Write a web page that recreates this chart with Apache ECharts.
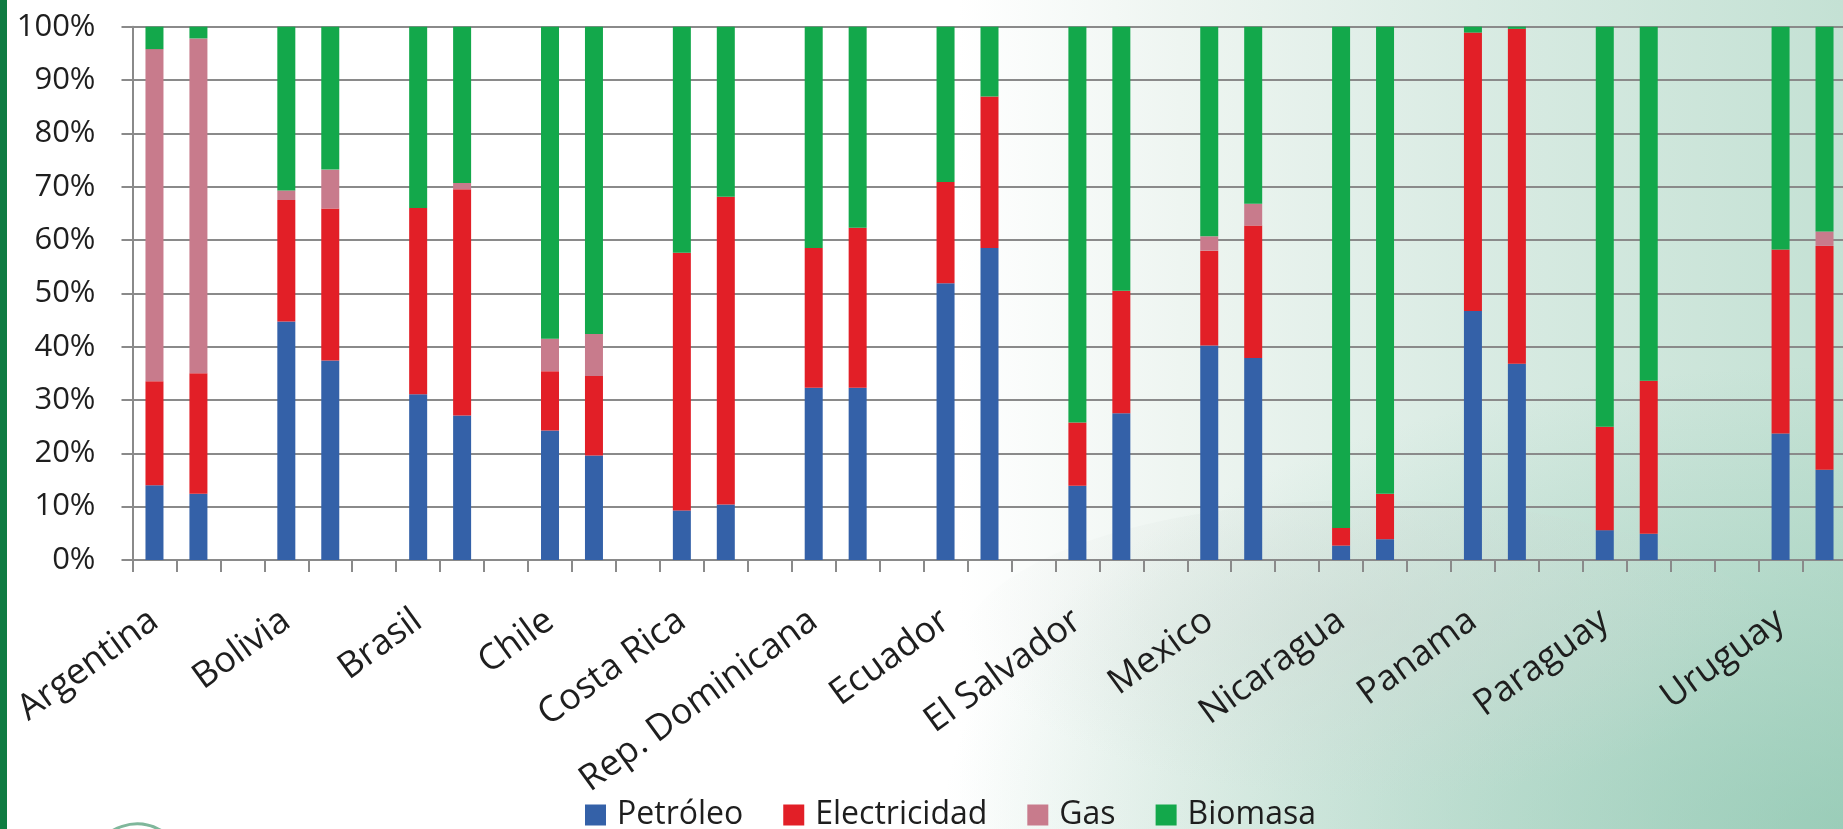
<!DOCTYPE html>
<html>
<head>
<meta charset="utf-8">
<script src="https://cdn.jsdelivr.net/npm/echarts@6/dist/echarts.min.js"></script>
<style>
  html, body { margin: 0; padding: 0; width: 1843px; height: 829px; overflow: hidden; }
  body {
    position: relative;
    background:
      radial-gradient(ellipse 70% 80% at 100% 100%, rgba(120,188,162,0.55), rgba(120,188,162,0) 70%),
      linear-gradient(90deg, #ffffff 0%, #ffffff 52%, #eef5f1 64%, #d9ebe3 80%, #c4e1d4 100%);
  }
  #side { position: absolute; left: 0; top: 0; width: 7px; height: 829px; background: #0f7c42; }
  #dome {
    position: absolute; left: 960px; top: 500px; width: 820px; height: 300px; border-radius: 50%;
    background: radial-gradient(ellipse at 50% 40%, rgba(205,215,210,0.45), rgba(205,215,210,0) 70%);
  }
  #chart { position: absolute; left: 0; top: 0; width: 1843px; height: 829px; }
</style>
</head>
<body>
<div id="side"></div>
<div id="dome"></div>
<div id="chart"></div>
<script>
// Axis slots: two bars per country, one blank slot between countries
const slotLabels = [
  'Argentina', '', '', 'Bolivia', '', '', 'Brasil', '', '', 'Chile', '', '',
  'Costa Rica', '', '', 'Rep. Dominicana', '', '', 'Ecuador', '', '',
  'El Salvador', '', '', 'Mexico', '', '', 'Nicaragua', '', '', 'Panama', '', '',
  'Paraguay', '', '', '', 'Uruguay', ''
];

const countries = ['Argentina', 'Bolivia', 'Brasil', 'Chile', 'Costa Rica', 'Rep. Dominicana',
  'Ecuador', 'El Salvador', 'Mexico', 'Nicaragua', 'Panama', 'Paraguay', 'Uruguay'];

// Share of each source (%), two bars per country, in country order
const petroleo = [14.0, 12.4, 44.7, 37.4, 31.1, 27.1, 24.3, 19.6, 9.3, 10.4, 32.3, 32.3,
  51.9, 58.5, 13.9, 27.5, 40.2, 37.9, 2.7, 3.9, 46.7, 36.8, 5.6, 4.9, 23.7, 16.9];
const electricidad = [19.5, 22.6, 22.8, 28.5, 34.9, 42.4, 11.1, 14.9, 48.3, 57.7, 26.2, 30.0,
  19.0, 28.4, 11.9, 23.0, 17.8, 24.8, 3.3, 8.5, 52.2, 62.8, 19.4, 28.7, 34.5, 42.0];
const gas = [62.3, 62.8, 1.8, 7.3, 0, 1.2, 6.1, 7.9, 0, 0, 0, 0,
  0, 0, 0, 0, 2.7, 4.1, 0, 0, 0, 0, 0, 0, 0, 2.7];
const biomasa = [4.2, 2.2, 30.7, 26.8, 34.0, 29.3, 58.5, 57.6, 42.4, 31.9, 41.5, 37.7,
  29.1, 13.1, 74.2, 49.5, 39.3, 33.2, 94.0, 87.6, 1.1, 0.4, 75.0, 66.4, 41.8, 38.4];

const yTicks = { min: 0, max: 100, interval: 10 };

function toSlots(values) {
  const out = slotLabels.map(() => null);
  slotLabels.forEach((label, s) => {
    const k = countries.indexOf(label);
    if (k >= 0) {
      out[s] = values[2 * k];
      out[s + 1] = values[2 * k + 1];
    }
  });
  return out;
}

const seriesDefs = [
  { name: 'Petróleo', values: petroleo, color: '#3461a8' },
  { name: 'Electricidad', values: electricidad, color: '#e21f27' },
  { name: 'Gas', values: gas, color: '#c87b8c' },
  { name: 'Biomasa', values: biomasa, color: '#13a84b' }
];

const gray = '#8a8a8a';
const font = '"Open Sans", sans-serif';

const chart = echarts.init(document.getElementById('chart'), null, { renderer: 'canvas' });
chart.setOption({
  backgroundColor: 'transparent',
  animation: false,
  textStyle: { fontFamily: font },
  grid: { left: 132.5, right: -3.5, top: 26.7, bottom: 269, containLabel: false, outerBoundsMode: 'none' },
  legend: {
    data: seriesDefs.map(d => d.name),
    left: 585,
    top: 797,
    icon: 'rect',
    itemWidth: 21,
    itemHeight: 21,
    itemGap: 40,
    padding: 0,
    textStyle: { fontFamily: font, fontSize: 32, color: '#1e1e1e', lineHeight: 36, padding: [0, 0, 0, 6] }
  },
  xAxis: {
    type: 'category',
    data: slotLabels,
    boundaryGap: true,
    axisLine: { show: true, lineStyle: { color: gray, width: 2 } },
    axisTick: { show: true, interval: 0, length: 12, lineStyle: { color: gray, width: 2 } },
    axisLabel: {
      interval: 0, rotate: 36, margin: 57, fontSize: 36, fontFamily: font, color: '#1e1e1e'
    },
    splitLine: { show: false }
  },
  yAxis: {
    type: 'value',
    min: yTicks.min,
    max: yTicks.max,
    interval: yTicks.interval,
    axisLine: { show: true, lineStyle: { color: gray, width: 2 } },
    axisTick: { show: true, length: 11, lineStyle: { color: gray, width: 2 } },
    axisLabel: { formatter: '{value}%', fontSize: 31, fontFamily: font, color: '#1e1e1e', margin: 37 },
    splitLine: { show: true, lineStyle: { color: gray, width: 2 } }
  },
  series: seriesDefs.map(d => ({
    name: d.name,
    type: 'bar',
    stack: 'total',
    barWidth: 18,
    itemStyle: { color: d.color },
    data: toSlots(d.values)
  })),
  graphic: [
    {
      type: 'arc',
      shape: { cx: 137, cy: 872, r: 48, startAngle: Math.PI * 1.15, endAngle: Math.PI * 1.85 },
      style: { stroke: '#7fb79b', lineWidth: 3, fill: null }
    }
  ]
});
</script>
</body>
</html>
